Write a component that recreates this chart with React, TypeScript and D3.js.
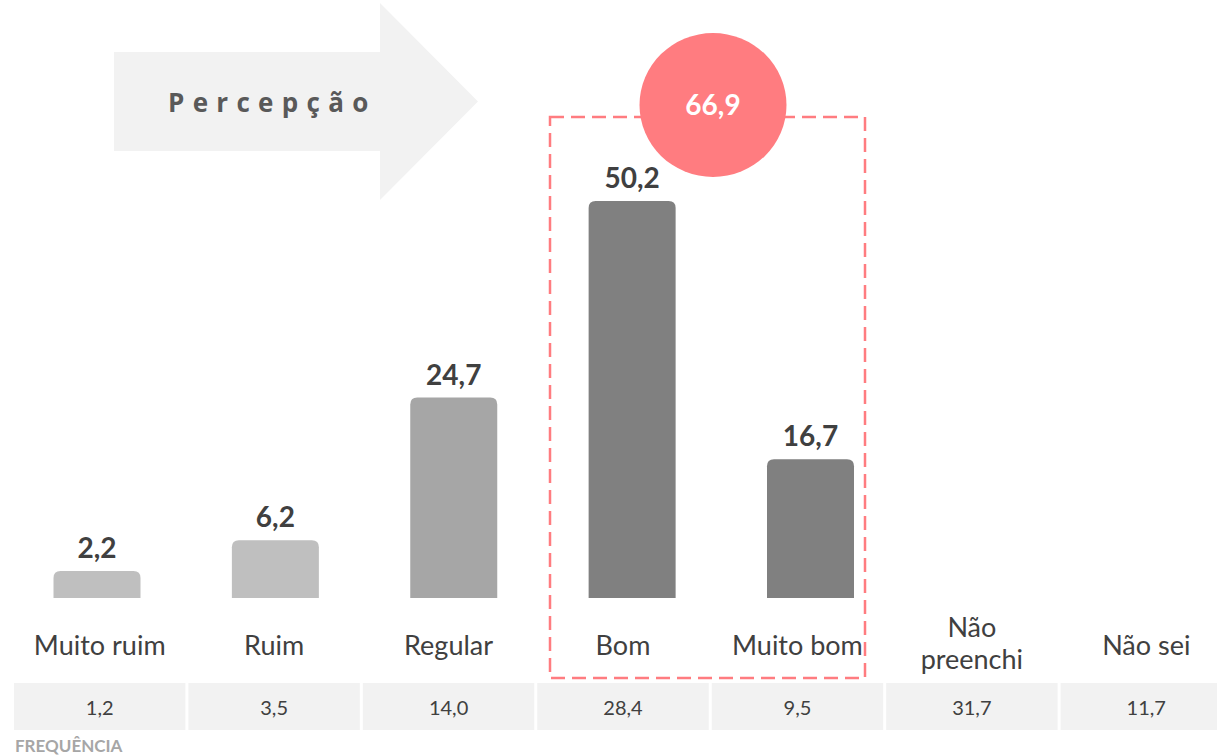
import React from "react";
import * as d3 from "d3";

const categories = ["Muito ruim", "Ruim", "Regular", "Bom", "Muito bom", "Não preenchi", "Não sei"];
const categoryLines = [["Muito ruim"], ["Ruim"], ["Regular"], ["Bom"], ["Muito bom"], ["Não", "preenchi"], ["Não sei"]];
const barCategories = ["Muito ruim", "Ruim", "Regular", "Bom", "Muito bom"];
const barValues = [2.2, 6.2, 24.7, 50.2, 16.7];
const barColors = ["#BFBFBF", "#BFBFBF", "#A6A6A6", "#808080", "#808080"];
const frequencies = [1.2, 3.5, 14.0, 28.4, 9.5, 31.7, 11.7];
const highlighted = ["Bom", "Muito bom"];
const arrowTitle = "Percepção";
const footerLabel = "FREQUÊNCIA";

const W = 1217;
const H = 756;
const fmt = (v: number) => v.toFixed(1).replace(".", ",");

function topRoundedRect(x: number, y: number, w: number, h: number, r: number) {
  const rr = Math.min(r, h, w / 2);
  return `M${x},${y + h}V${y + rr}Q${x},${y} ${x + rr},${y}H${x + w - rr}Q${x + w},${y} ${x + w},${y + rr}V${y + h}Z`;
}

export default function App() {
  const y = d3.scaleLinear().domain([-1.3, 50.2]).range([598, 201]);
  const barX = d3.scalePoint<string>().domain(barCategories).range([97, 810.5]);
  const barW = 87;
  const col = d3.scaleBand<string>().domain(categories).range([14, 14 + 7 * 174]).paddingInner(3 / 174).paddingOuter(0);

  const total = d3.sum(barCategories.map((c, i) => (highlighted.includes(c) ? barValues[i] : 0)));

  const font = "Lato, 'Open Sans', sans-serif";
  const hiLeft = 550, hiRight = 865, hiTop = 117, hiBottom = 678;
  const circleCx = (hiLeft + hiRight) / 2 + 5.5;

  return (
    <svg width={W} height={H} style={{ position: "absolute", left: 0, top: 0, background: "#fff" }} fontFamily={font}>
      {/* arrow */}
      <path d="M114,52H380V3L478,101.5L380,200V151H114Z" fill="#F2F2F2" />
      <text x={168} y={112} fontFamily="'Open Sans', sans-serif" fontWeight={700} fontSize={26} letterSpacing={8.3} fill="#595959">
        {arrowTitle}
      </text>

      {/* bars */}
      {barCategories.map((c, i) => {
        const cx = barX(c)!;
        const top = y(barValues[i]);
        const base = y(-1.3);
        return (
          <g key={c}>
            <path d={topRoundedRect(cx - barW / 2, top, barW, base - top, 7)} fill={barColors[i]} />
            <text x={cx} y={top - 13} textAnchor="middle" fontWeight={700} fontSize={28} fill="#404040">
              {fmt(barValues[i])}
            </text>
          </g>
        );
      })}

      {/* highlight box */}
      <rect x={hiLeft} y={hiTop} width={hiRight - hiLeft} height={hiBottom - hiTop} fill="none" stroke="#FF7C80" strokeWidth={2.5} strokeDasharray="14 7" />
      <ellipse cx={circleCx} cy={105} rx={73.5} ry={72} fill="#FF7C80" />
      <text x={circleCx} y={115} textAnchor="middle" fontWeight={700} fontSize={28} fill="#FFFFFF">
        {fmt(total)}
      </text>

      {/* category labels */}
      {categories.map((c, i) => {
        const cx = col(c)! + col.bandwidth() / 2;
        const lines = categoryLines[i];
        const baseY = lines.length === 1 ? 655 : 637;
        return (
          <text key={c} x={cx} textAnchor="middle" fontSize={27} fill="#404040">
            {lines.map((l, j) => (
              <tspan key={j} x={cx} y={baseY + j * 32}>{l}</tspan>
            ))}
          </text>
        );
      })}

      {/* frequency table */}
      {categories.map((c, i) => {
        const x0 = col(c)!;
        return (
          <g key={c}>
            <rect x={x0} y={683} width={col.bandwidth()} height={47} fill="#F2F2F2" />
            <text x={x0 + col.bandwidth() / 2} y={715} textAnchor="middle" fontSize={20} fill="#404040">
              {fmt(frequencies[i])}
            </text>
          </g>
        );
      })}
      <text x={15} y={752} fontWeight={700} fontSize={17} fill="#A6A6A6">{footerLabel}</text>
    </svg>
  );
}
